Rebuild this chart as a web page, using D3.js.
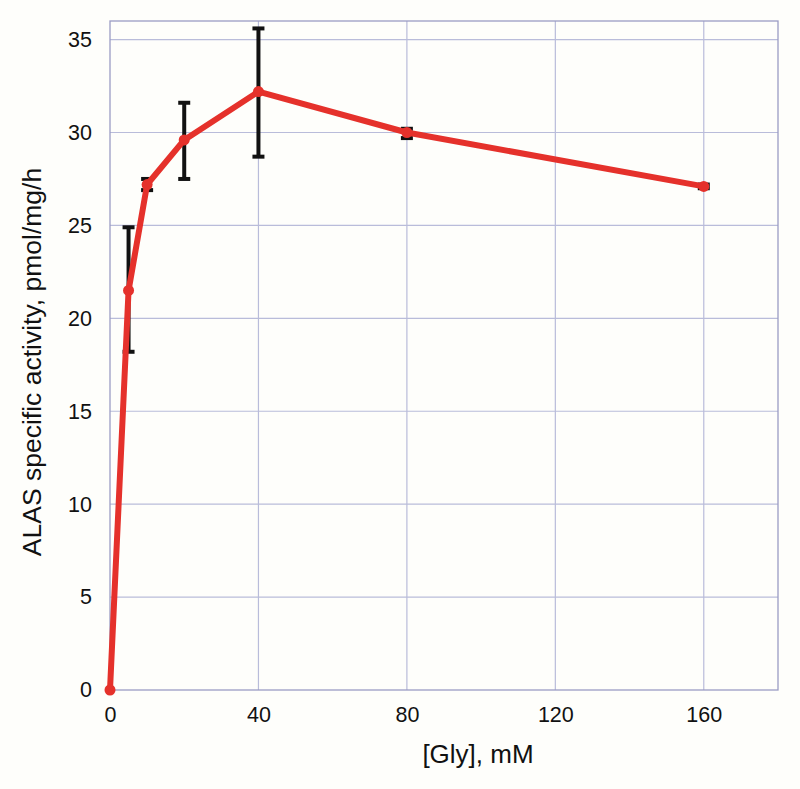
<!DOCTYPE html>
<html>
<head>
<meta charset="utf-8">
<style>
body { margin: 0; background: #fefefb; }
svg { display: block; font-family: "Liberation Sans", Arial, sans-serif; }
.grid line { stroke: #b9bcda; stroke-width: 1.2; }
.tick text { fill: #111; }
</style>
</head>
<body>
<svg id="chart" width="800" height="789"></svg>
<script src="https://d3js.org/d3.v7.min.js"></script>
<script>

var glyConc = [0, 5, 10, 20, 40, 80, 160];
var activity = [0, 21.5, 27.2, 29.6, 32.2, 30.0, 27.1];
var errLow = [0, 18.2, 26.9, 27.5, 28.7, 29.7, 27.0];
var errHigh = [0, 24.9, 27.5, 31.6, 35.6, 30.2, 27.2];
var xTicks = [0, 40, 80, 120, 160];
var yTicks = [0, 5, 10, 15, 20, 25, 30, 35];

var svg = d3.select("#chart"),
    width = +svg.attr("width"),
    height = +svg.attr("height");

var margin = {top: 21, right: 22, bottom: 99, left: 110};

var x = d3.scaleLinear()
    .domain([0, 180])
    .range([margin.left, width - margin.right]);

var y = d3.scaleLinear()
    .domain([0, 36])
    .range([height - margin.bottom, margin.top]);

svg.append("rect")
    .attr("width", width)
    .attr("height", height)
    .attr("fill", "#fefefb");

// grid
svg.append("g")
    .attr("class", "grid")
    .selectAll("line.h")
    .data(yTicks.slice(1))
    .enter().append("line")
    .attr("x1", x(0)).attr("x2", x(180))
    .attr("y1", function(d) { return y(d); })
    .attr("y2", function(d) { return y(d); });

svg.append("g")
    .attr("class", "grid")
    .selectAll("line.v")
    .data(xTicks.slice(1))
    .enter().append("line")
    .attr("y1", y(0)).attr("y2", y(36))
    .attr("x1", function(d) { return x(d); })
    .attr("x2", function(d) { return x(d); });

// frame
svg.append("rect")
    .attr("x", x(0))
    .attr("y", y(36))
    .attr("width", x(180) - x(0))
    .attr("height", y(0) - y(36))
    .attr("fill", "none")
    .attr("stroke", "#9a9cc4")
    .attr("stroke-width", 1.3);

// axes
var xAxis = svg.append("g")
    .attr("transform", "translate(0," + y(0) + ")")
    .call(d3.axisBottom(x).tickValues(xTicks).tickSize(0).tickPadding(17));
xAxis.select(".domain").remove();
xAxis.selectAll("text").attr("font-size", 21.5).attr("font-family", "Liberation Sans, Arial, sans-serif");

var yAxis = svg.append("g")
    .attr("transform", "translate(" + x(0) + ",0)")
    .call(d3.axisLeft(y).tickValues(yTicks).tickSize(0).tickPadding(18));
yAxis.select(".domain").remove();
yAxis.selectAll("text").attr("font-size", 21.5).attr("font-family", "Liberation Sans, Arial, sans-serif");

// titles
svg.append("text")
    .attr("x", 478)
    .attr("y", 763)
    .attr("text-anchor", "middle")
    .attr("font-size", 26)
    .attr("fill", "#111")
    .text("[Gly], mM");

svg.append("text")
    .attr("transform", "translate(41,362) rotate(-90)")
    .attr("text-anchor", "middle")
    .attr("font-size", 26.5)
    .attr("fill", "#111")
    .text("ALAS specific activity, pmol/mg/h");

// error bars
var pts = glyConc.map(function(d, i) {
  return {x: d, y: activity[i], lo: errLow[i], hi: errHigh[i]};
});

var eb = svg.append("g")
    .attr("stroke", "#111")
    .attr("stroke-width", 4)
    .selectAll("g")
    .data(pts.filter(function(d) { return d.hi > d.lo; }))
    .enter().append("g");

eb.append("line")
    .attr("x1", function(d) { return x(d.x); })
    .attr("x2", function(d) { return x(d.x); })
    .attr("y1", function(d) { return y(d.lo); })
    .attr("y2", function(d) { return y(d.hi); });
eb.append("line")
    .attr("x1", function(d) { return x(d.x) - 6; })
    .attr("x2", function(d) { return x(d.x) + 6; })
    .attr("y1", function(d) { return y(d.lo); })
    .attr("y2", function(d) { return y(d.lo); });
eb.append("line")
    .attr("x1", function(d) { return x(d.x) - 6; })
    .attr("x2", function(d) { return x(d.x) + 6; })
    .attr("y1", function(d) { return y(d.hi); })
    .attr("y2", function(d) { return y(d.hi); });

// line + markers
var line = d3.line()
    .x(function(d) { return x(d.x); })
    .y(function(d) { return y(d.y); });

svg.append("path")
    .datum(pts)
    .attr("d", line)
    .attr("fill", "none")
    .attr("stroke", "#e5312b")
    .attr("stroke-width", 6)
    .attr("stroke-linejoin", "round");

svg.append("g")
    .selectAll("circle")
    .data(pts)
    .enter().append("circle")
    .attr("cx", function(d) { return x(d.x); })
    .attr("cy", function(d) { return y(d.y); })
    .attr("r", 5.5)
    .attr("fill", "#e5312b");

</script>
</body>
</html>
